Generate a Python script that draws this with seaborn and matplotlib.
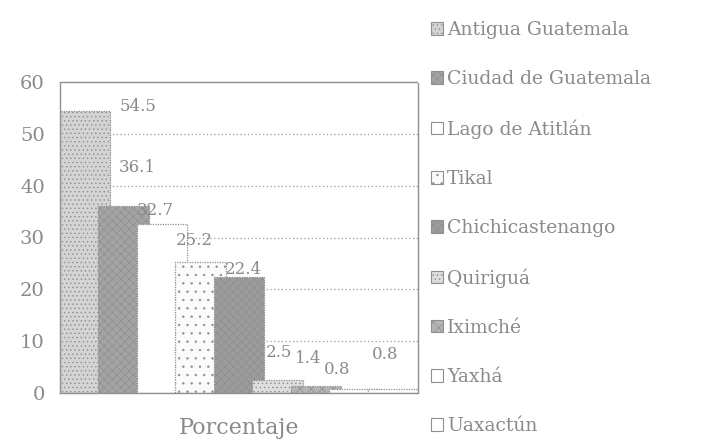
import matplotlib
matplotlib.use("Agg")
import matplotlib.pyplot as plt
from matplotlib.patches import Patch
import numpy as np
import pandas as pd
import seaborn as sns

# Sitios visitados y porcentaje de visitantes
sitios = ["Antigua Guatemala", "Ciudad de Guatemala", "Lago de Atitlán", "Tikal",
          "Chichicastenango", "Quiriguá", "Iximché", "Yaxhá", "Uaxactún"]
porcentajes = [54.5, 36.1, 32.7, 25.2, 22.4, 2.5, 1.4, 0.8, 0.8]
yticks = [0, 10, 20, 30, 40, 50, 60]

# Relleno de cada serie (tonos de gris con tramas)
colores = ["#d4d4d4", "#a4a4a4", "#ffffff", "#fbfbfb", "#9c9c9c",
           "#dedede", "#b4b4b4", "#ffffff", "#ffffff"]
tramas = ["....", "xxxx", "", "..", "xxxx", "....", "xxx", "", ""]

# Desplazamiento de cada etiqueta respecto al centro/tope de su barra (píxeles)
etiqueta_dx = [35, -5, -25, -25, -14, -12, -21, -31, -21]
etiqueta_dy = [4, 38, 13, 22, 7, 28, 27, 19, 34]

gris_texto = "#8a8a8a"
gris_borde = "#8f8f8f"

sns.set_theme(style="white")
plt.rcParams["font.family"] = ["DejaVu Serif", "DejaVu Sans"]
plt.rcParams["hatch.color"] = "#7a7a7a"
plt.rcParams["hatch.linewidth"] = 0.5

df = pd.DataFrame({"sitio": sitios, "porcentaje": porcentajes})

fig = plt.figure(figsize=(7.01, 4.46), dpi=100)
ax = fig.add_axes([60 / 701, 1 - 393 / 446, 358 / 701, 311 / 446])

# Líneas de cuadrícula punteadas detrás de las barras
ax.set_axisbelow(True)
for v in yticks[1:-1]:
    ax.axhline(v, color="#9a9a9a", linestyle=(0, (1, 2)), linewidth=0.9, zorder=0)

sns.barplot(data=df, x="sitio", y="porcentaje", hue="sitio",
            order=sitios, hue_order=sitios, palette=colores,
            width=1.3, saturation=1, legend=False, errorbar=None,
            edgecolor=gris_borde, linewidth=0.9, ax=ax)

for patch, trama in zip(ax.patches, tramas):
    patch.set_hatch(trama)
    patch.set_linestyle((0, (1, 1)))

# Etiquetas de valor
for patch, valor, dx, dy in zip(ax.patches, porcentajes, etiqueta_dx, etiqueta_dy):
    cx = patch.get_x() + patch.get_width() / 2
    ax.annotate(f"{valor:.1f}", xy=(cx, valor), xytext=(dx, dy),
                textcoords="offset pixels", ha="left", va="center",
                fontsize=12, color=gris_texto)

ax.set_xlim(-0.65, 8.65)
ax.set_ylim(0, 60)
ax.set_yticks(yticks)
ax.set_yticklabels([str(t) for t in yticks], fontsize=14, color=gris_texto)
ax.set_xticks([])
ax.set_xlabel("Porcentaje", fontsize=16, color=gris_texto, labelpad=17)
ax.set_ylabel("")
ax.tick_params(axis="y", length=0, pad=11)

for sp in ax.spines.values():
    sp.set_visible(True)
    sp.set_color(gris_borde)
    sp.set_linestyle((0, (1, 1)))
    sp.set_linewidth(1.0)

# Leyenda
handles = [Patch(facecolor=c, edgecolor=gris_borde, hatch=h, linewidth=0.8)
           for c, h in zip(colores, tramas)]
fig.legend(handles, sitios, loc="upper left",
           bbox_to_anchor=(431 / 701, 1 - 21 / 446),
           frameon=False, fontsize=13.5, labelcolor=gris_texto,
           handlelength=0.65, handleheight=0.65, handletextpad=0.2,
           labelspacing=1.66, borderpad=0, borderaxespad=0)

fig.savefig("out.png", dpi=100)
